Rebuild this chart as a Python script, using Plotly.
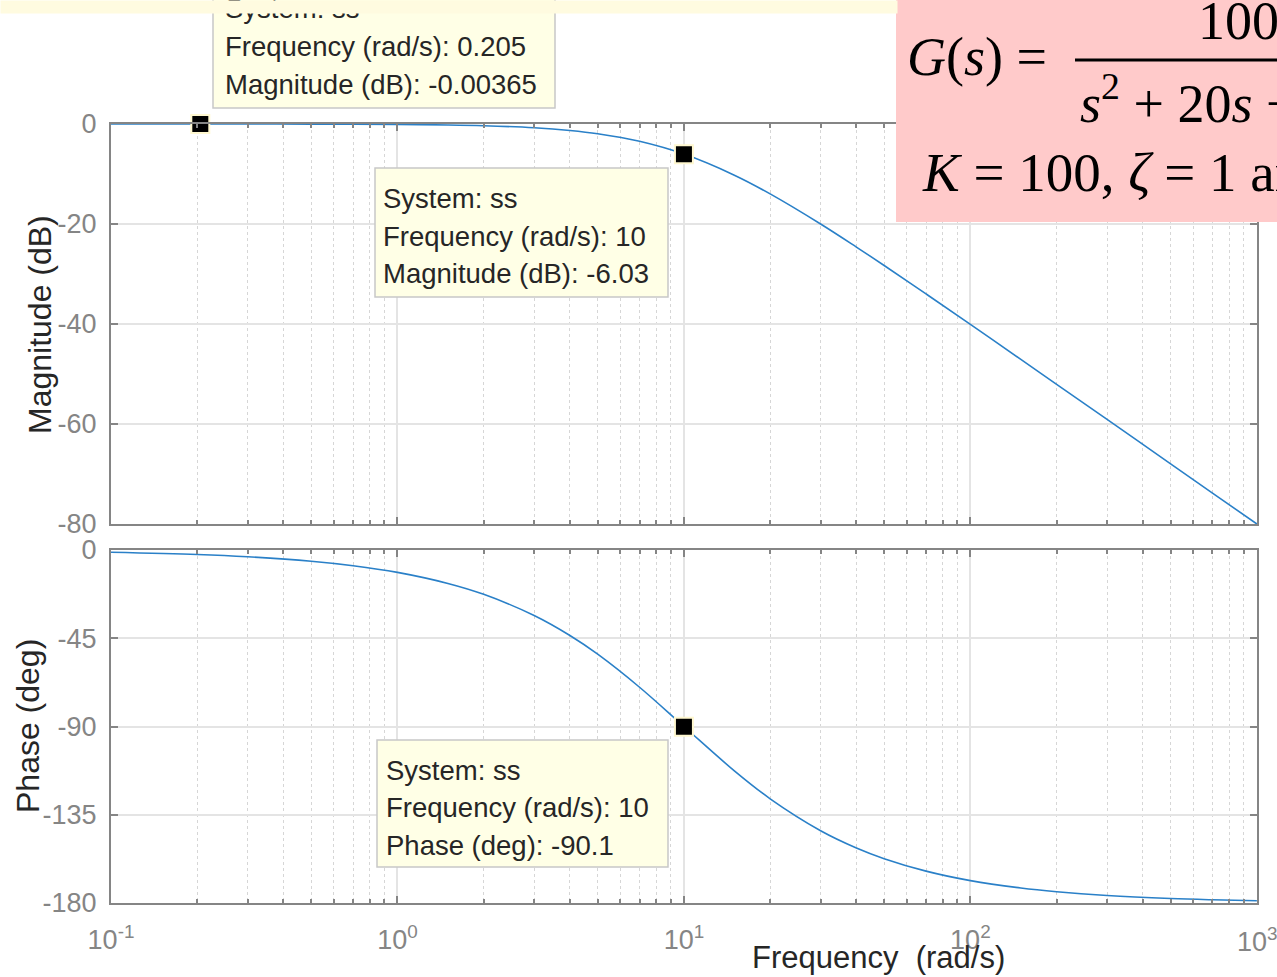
import plotly.graph_objects as go

# ---------------- data ----------------
freq = [0.1, 0.2, 0.3, 0.5, 0.7, 1, 1.5, 2, 3, 4, 5, 7, 10, 15, 20, 30, 40, 50,
        70, 100, 150, 200, 300, 500, 700, 1000]
magnitude_db = [-0.001, -0.0035, -0.008, -0.022, -0.043, -0.086, -0.19, -0.34,
                -0.75, -1.29, -1.94, -3.46, -6.02, -10.24, -13.98, -20.0, -24.61,
                -28.3, -33.98, -40.09, -47.08, -52.06, -59.09, -67.96, -73.81, -80.0]
phase_deg = [-1.15, -2.29, -3.44, -5.72, -8.01, -11.42, -17.06, -22.62, -33.4,
             -43.6, -53.13, -69.98, -90.0, -112.62, -126.87, -143.13, -151.93,
             -157.38, -163.74, -168.58, -172.37, -174.28, -176.18, -177.71,
             -178.36, -178.85]

mag_marker_freq = [0.205, 10]
mag_marker_db = [-0.00365, -6.03]
phase_marker_freq = [10]
phase_marker_deg = [-90.1]

x_tickvals = [0.1, 1, 10, 100, 1000]
x_ticktext = ["10<sup>-1</sup>", "10<sup>0</sup>", "10<sup>1</sup>", "10<sup>2</sup>", "10<sup>3</sup>"]
mag_ticks = [0, -20, -40, -60, -80]
mag_ticktext = ["0", "-20", "-40", "-60", "-80"]
phase_ticks = [0, -45, -90, -135, -180]
phase_ticktext = ["0", "-45", "-90", "-135", "-180"]

tip1 = ["System: ss", "Frequency (rad/s): 0.205", "Magnitude (dB): -0.00365"]
tip2 = ["System: ss", "Frequency (rad/s): 10", "Magnitude (dB): -6.03"]
tip3 = ["System: ss", "Frequency (rad/s): 10", "Phase (deg): -90.1"]

# ---------------- layout helpers ----------------
W, H = 1277, 977
L, R, T, B = 111, 20, 124, 74
PW, PH = W - L - R, H - T - B


def px(x):
    return (x - L) / PW


def py(y):
    return (H - B - y) / PH


BLUE = "#2a80c8"
AXC = "#858585"
TICKC = "#858585"
TXT = "#262626"
TIPBG = "#ffffe6"
SANS = "Liberation Sans, Arial"

minor_vals = [m * 10 ** e for e in range(-1, 3) for m in range(2, 10)]

fig = go.Figure()

fig.add_trace(go.Scatter(x=freq, y=magnitude_db, mode="lines", line=dict(color=BLUE, width=1.6, shape="spline"),
                         xaxis="x", yaxis="y", cliponaxis=False, showlegend=False))
fig.add_trace(go.Scatter(x=freq, y=phase_deg, mode="lines", line=dict(color=BLUE, width=1.6, shape="spline"),
                         xaxis="x2", yaxis="y2", cliponaxis=False, showlegend=False))
fig.add_trace(go.Scatter(x=mag_marker_freq, y=mag_marker_db, mode="markers",
                         marker=dict(symbol="square", size=18, color="black", line=dict(color="#fff8d0", width=2)),
                         xaxis="x", yaxis="y", cliponaxis=False, showlegend=False))
fig.add_trace(go.Scatter(x=phase_marker_freq, y=phase_marker_deg, mode="markers",
                         marker=dict(symbol="square", size=18, color="black", line=dict(color="#fff8d0", width=2)),
                         xaxis="x2", yaxis="y2", cliponaxis=False, showlegend=False))

common_x = dict(type="log", range=[-1, 3.0005], showline=True, linecolor=AXC, linewidth=2, mirror="allticks",
                ticks="inside", ticklen=7, tickcolor=AXC, tickwidth=1.5,
                showgrid=True, gridcolor="#e4e4e4", gridwidth=2,
                tickmode="array", tickvals=x_tickvals, zeroline=False,
                minor=dict(tickmode="array", tickvals=minor_vals, ticks="inside", ticklen=4,
                           tickcolor=AXC, showgrid=True, gridcolor="#d6d6d6", griddash="dot", gridwidth=1))
common_y = dict(showline=True, linecolor=AXC, linewidth=2, mirror="allticks",
                ticks="inside", ticklen=7, tickcolor=AXC, tickwidth=1.5,
                showgrid=True, gridcolor="#e4e4e4", gridwidth=1.5, zeroline=False,
                tickfont=dict(family=SANS, size=27, color=TICKC),
                tickmode="array", ticklabelstandoff=7)

fig.update_layout(
    width=W, height=H,
    margin=dict(l=L, r=R, t=T, b=B, pad=0, autoexpand=False),
    paper_bgcolor="white", plot_bgcolor="white",
    xaxis=dict(**common_x, domain=[0, 1], anchor="y", showticklabels=False),
    yaxis=dict(**common_y, domain=[py(524), 1], range=[-80, 0], tickvals=mag_ticks, ticktext=mag_ticktext),
    xaxis2=dict(**common_x, domain=[0, 1], anchor="y2", ticktext=x_ticktext,
                tickfont=dict(family=SANS, size=27, color=TICKC), ticklabelstandoff=12),
    yaxis2=dict(**common_y, domain=[0, py(550)], range=[-180, 0], tickvals=phase_ticks, ticktext=phase_ticktext),
    showlegend=False,
)

shapes = []
annotations = []

# the last decade label sits on the figure edge and is cut there, as in the reference
annotations.append(dict(xref="paper", yref="paper", x=px(1257), y=py(940), xanchor="center", yanchor="middle",
                        text=x_ticktext[-1], showarrow=False, font=dict(family=SANS, size=27, color=TICKC)))


def tip(box, left, centers, lines):
    x0, y0, x1, y1 = box
    shapes.append(dict(type="rect", xref="paper", yref="paper", x0=px(x0), x1=px(x1), y0=py(y0), y1=py(y1),
                       fillcolor=TIPBG, line=dict(color="#c8c8c8", width=1.5), layer="above"))
    for c, t in zip(centers, lines):
        annotations.append(dict(xref="paper", yref="paper", x=px(left), y=py(c), xanchor="left", yanchor="middle",
                                text=t, showarrow=False,
                                font=dict(family=SANS, size=27.5, color=TXT)))


tip((213, -5, 555, 108), 223, [9, 47, 84], tip1)
tip((375, 168, 668, 297), 381, [198, 236, 273], tip2)
tip((377, 740, 668, 867), 384, [770, 807, 845], tip3)

# pale yellow strip at the very top (drawn above the clipped tooltip)
annotations.append(dict(xref="paper", yref="paper", x=px(0), y=py(0), xanchor="left", yanchor="top",
                        text=" ", showarrow=False, width=896, height=12, bgcolor="#fffbe0", borderpad=0,
                        font=dict(size=6)))

# pink formula box
shapes.append(dict(type="rect", xref="paper", yref="paper", x0=px(896), x1=px(1300), y0=py(222), y1=py(-5),
                   fillcolor="#ffcaca", line=dict(width=0), layer="above"))
shapes.append(dict(type="line", xref="paper", yref="paper", x0=px(1075), x1=px(1300), y0=py(60), y1=py(60),
                   line=dict(color="black", width=3), layer="above"))
SERIF = "Liberation Serif, Times New Roman"
annotations += [
    dict(xref="paper", yref="paper", x=px(905), y=py(57), xanchor="left", yanchor="middle",
         text="<i>G</i>(<i>s</i>) =", showarrow=False, font=dict(family=SERIF, size=54, color="black")),
    dict(xref="paper", yref="paper", x=px(1196), y=py(21), xanchor="left", yanchor="middle",
         text="100", showarrow=False, font=dict(family=SERIF, size=54, color="black")),
    dict(xref="paper", yref="paper", x=px(1078), y=py(100), xanchor="left", yanchor="middle",
         text="<i>s</i><sup>2</sup> + 20<i>s</i> + 100", showarrow=False, font=dict(family=SERIF, size=54, color="black")),
    dict(xref="paper", yref="paper", x=px(920), y=py(176), xanchor="left", yanchor="middle",
         text="<i>K</i> = 100, <i>ζ</i> = 1 and <i>ω</i><sub>n</sub> = 10", showarrow=False,
         font=dict(family=SERIF, size=55, color="black")),
]

# axis titles
annotations += [
    dict(xref="paper", yref="paper", x=px(40), y=py(325), xanchor="center", yanchor="middle", textangle=-90,
         text="Magnitude (dB)", showarrow=False, font=dict(family=SANS, size=32, color=TXT)),
    dict(xref="paper", yref="paper", x=px(28), y=py(726), xanchor="center", yanchor="middle", textangle=-90,
         text="Phase (deg)", showarrow=False, font=dict(family=SANS, size=32, color=TXT)),
    dict(xref="paper", yref="paper", x=px(878), y=py(958), xanchor="center", yanchor="middle",
         text="Frequency  (rad/s)", showarrow=False, font=dict(family=SANS, size=31, color=TXT)),
]

fig.update_layout(shapes=shapes, annotations=annotations)

fig.write_html("out.html", config={"displayModeBar": False},
               post_script="document.body.style.margin='0';document.body.style.overflow='hidden';")
